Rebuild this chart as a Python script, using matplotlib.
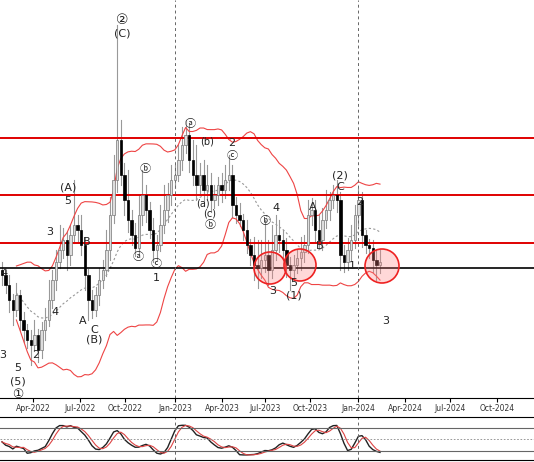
import matplotlib
matplotlib.use("Agg")
import matplotlib.pyplot as plt
import numpy as np
import pandas as pd
from matplotlib.patches import Rectangle, Ellipse

# weekly closes (arbitrary price units)
closes = [125, 115, 100, 90, 105, 80, 70, 60, 55, 65, 50,
          70, 80, 100, 120, 138, 150, 160, 145, 165, 175,
          170, 155, 125, 100, 90, 105, 120, 130, 150, 185,
          220, 260, 225, 200, 180, 165, 152, 185, 205, 190,
          170, 150, 155, 175, 190, 205, 220, 225, 240, 255,
          265, 240, 225, 215, 225, 210, 215, 200, 205, 215,
          210, 220, 225, 195, 185, 180, 170, 155, 145, 135,
          132, 140, 145, 130, 150, 165, 160, 150, 135, 130,
          135, 142, 148, 155, 185, 190, 170, 160, 180, 190,
          200, 205, 200, 145, 138, 150, 160, 185, 200, 165,
          155, 152, 140, 135, 138]
wick_up = [8, 5, 10, 6, 12, 5, 8, 6, 10, 15, 6,
           8, 12, 20, 10, 12, 25, 12, 8, 10, 45,
           10, 15, 8, 6, 10, 8, 12, 10, 20, 18,
           25, 115, 20, 12, 30, 10, 12, 20, 25, 10,
           8, 12, 10, 20, 25, 12, 15, 10, 15, 18,
           15, 10, 20, 30, 12, 15, 20, 12, 10, 8,
           12, 15, 20, 10, 8, 12, 6, 10, 6, 18,
           25, 20, 35, 15, 25, 20, 15, 10, 12, 8,
           10, 8, 15, 10, 15, 12, 10, 15, 12, 20,
           8, 10, 15, 8, 10, 12, 15, 10, 12, 8,
           5, 6, 8, 10, 12]
wick_dn = [10, 8, 12, 15, 6, 10, 12, 8, 20, 6, 12,
           8, 10, 6, 8, 10, 6, 8, 15, 10, 8,
           12, 10, 15, 20, 8, 6, 10, 8, 6, 10,
           8, 12, 10, 15, 12, 10, 8, 6, 10, 12,
           8, 12, 10, 6, 8, 12, 10, 8, 6, 10,
           8, 12, 10, 15, 8, 12, 10, 12, 8, 10,
           12, 8, 10, 12, 8, 6, 10, 8, 10, 15,
           20, 10, 12, 15, 8, 10, 12, 10, 12, 20,
           10, 8, 12, 10, 8, 10, 12, 8, 10, 8,
           10, 8, 12, 15, 10, 8, 10, 8, 10, 12,
           8, 10, 12, 15, 8]
tick_labels = ["Apr-2022", "Jul-2022", "Oct-2022", "Jan-2023", "Apr-2023", "Jul-2023",
               "Oct-2023", "Jan-2024", "Apr-2024", "Jul-2024", "Oct-2024"]
tick_px = [33, 80, 125, 175, 222, 265, 310, 358, 405, 450, 497]
levels = [262, 205, 157]
support = 132

PXW = 3.6
def wk(px):
    return (px - 2) / PXW
def pr(py):
    return 400 - py

c = pd.Series(closes, dtype=float)
o = c.shift(1).fillna(c.iloc[0] + 5)
h = np.maximum(o, c) + np.array(wick_up)
l = np.minimum(o, c) - np.array(wick_dn)
n = len(c)

fig = plt.figure(figsize=(5.34, 4.62), dpi=100)
ax = fig.add_axes([0, 64 / 462, 1, 398 / 462])
ax2 = fig.add_axes([0, 2 / 462, 1, 43 / 462])

for i in range(n):
    ax.plot([i, i], [l[i], h[i]], color="#999999", lw=0.8, zorder=2)
    up = c[i] >= o[i]
    ax.add_patch(Rectangle((i - 0.35, min(o[i], c[i])), 0.7, max(abs(c[i] - o[i]), 1),
                           facecolor="#dddddd" if up else "black",
                           edgecolor="#777777" if up else "black", lw=0.5, zorder=3))

mid = c.rolling(20, min_periods=5).mean()
sd = c.rolling(20, min_periods=5).std()
idx = np.arange(n)
ax.plot(idx, mid, color="#999999", ls=(0, (2, 2)), lw=0.8)
ax.plot(idx, mid + 2 * sd, color="#ee4444", lw=0.8)
ax.plot(idx, mid - 2 * sd, color="#ee4444", lw=0.8)

for lv in levels:
    ax.axhline(lv, color="#e00000", lw=1.4)
ax.axhline(support, color="black", lw=1.2)
for px in (175, 358):
    ax.axvline(wk(px), color="#666666", ls=(0, (3, 3)), lw=0.7)

for cx, cy, r in [(270, 268, 16), (300, 265, 16), (382, 266, 17)]:
    ax.add_patch(Ellipse((wk(cx), pr(cy)), 2 * r / PXW, 2 * r, facecolor=(1, 0.5, 0.5, 0.3),
                         edgecolor="#ee2222", lw=1.2, zorder=5))

labels = [("②", 122, 20, 10), ("(C)", 122, 33, 8), ("(A)", 68, 188, 8), ("5", 68, 201, 8),
          ("3", 50, 232, 8), ("B", 87, 242, 8), ("4", 55, 312, 8), ("A", 83, 321, 8),
          ("C", 94, 330, 8), ("(B)", 94, 340, 8), ("2", 36, 355, 8), ("4", 4, 273, 8),
          ("3", 3, 355, 8), ("5", 18, 368, 8), ("(5)", 18, 382, 8), ("①", 18, 395, 9),
          ("ⓑ", 145, 169, 8), ("ⓐ", 138, 257, 8), ("ⓒ", 156, 264, 8), ("1", 156, 278, 8),
          ("ⓐ", 190, 124, 8), ("(b)", 207, 141, 7), ("2", 232, 143, 8), ("ⓒ", 232, 156, 8),
          ("(a)", 203, 203, 7), ("(c)", 210, 214, 7), ("ⓑ", 210, 225, 8), ("ⓑ", 265, 221, 8),
          ("4", 276, 208, 8), ("3", 273, 291, 8), ("5", 294, 283, 8), ("(1)", 294, 295, 8),
          ("A", 313, 207, 8), ("B", 320, 246, 8), ("(2)", 340, 176, 8), ("C", 340, 187, 8),
          ("2", 360, 202, 8), ("1", 352, 266, 8), ("3", 386, 321, 8)]
for s, px, py, fs in labels:
    ax.text(wk(px), pr(py), s, ha="center", va="center", fontsize=fs, color="#222222",
            family=["DejaVu Sans", "Noto Sans CJK SC"], zorder=6)

ax.set_xlim(wk(0), wk(534))
ax.set_ylim(pr(398), pr(0))
ax.set_yticks([])
ax.set_xticks([wk(p) for p in tick_px])
ax.set_xticklabels(tick_labels, fontsize=5.5, color="#333333")
ax.tick_params(axis="x", length=3, pad=1)
for sp in ("top", "left", "right"):
    ax.spines[sp].set_visible(False)

# stochastic oscillator
hh = pd.Series(h).rolling(14, min_periods=1).max()
ll = pd.Series(l).rolling(14, min_periods=1).min()
k = (100 * (c - ll) / (hh - ll)).rolling(3, min_periods=1).mean()
d = k.rolling(3, min_periods=1).mean()
ax2.plot(idx, k, color="#222222", lw=1)
ax2.plot(idx, d, color="#dd4444", lw=0.8)
for lv in (80, 20):
    ax2.axhline(lv, color="#666666", lw=0.8)
ax2.axhline(50, color="#888888", ls=(0, (2, 2)), lw=0.6)
for px in (175, 358):
    ax2.axvline(wk(px), color="#666666", ls=(0, (3, 3)), lw=0.7)
ax2.set_xlim(wk(0), wk(534))
ax2.set_ylim(-5, 110)
ax2.set_xticks([])
ax2.set_yticks([])
for sp in ("left", "right"):
    ax2.spines[sp].set_visible(False)

fig.savefig("out.png", dpi=100)
